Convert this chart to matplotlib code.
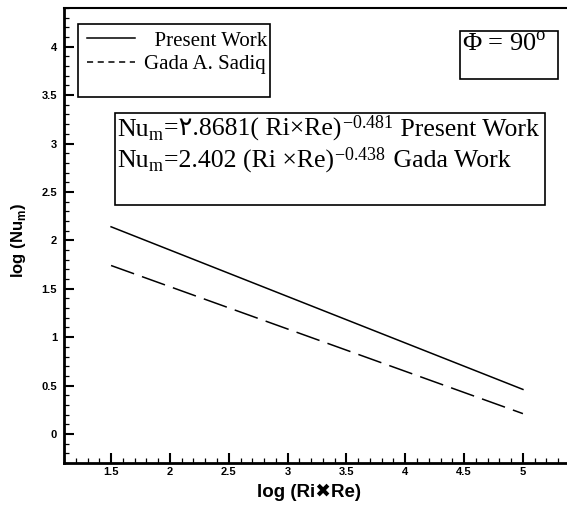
import matplotlib
matplotlib.use('Agg')
import matplotlib.pyplot as plt
from matplotlib.lines import Line2D
from matplotlib.patches import Rectangle
from matplotlib.offsetbox import TextArea, HPacker, VPacker, AnchoredOffsetbox
from matplotlib.ticker import MultipleLocator

# log(Ri*Re) against log(Nu_m), straight-line fits
log_rire = [1.5, 5.0]
present_work = [2.14, 0.46]
gada_sadiq = [1.74, 0.21]

labels = ['  Present Work', 'Gada A. Sadiq']
phi_text = 'Φ = 90$^{\\mathrm{o}}$'
eq_present = ('٢.8681( Ri×Re)', '-0.481', 'Present Work')
eq_gada = ('2.402 (Ri ×Re)', '-0.438', 'Gada Work')

plt.rcParams['mathtext.fontset'] = 'custom'
plt.rcParams['mathtext.rm'] = 'Liberation Serif'
plt.rcParams['mathtext.bf'] = 'Liberation Sans:bold'

serif = ['Liberation Serif', 'DejaVu Sans']
sans = ['Liberation Sans', 'DejaVu Sans']

W, H = 567, 520


def fx(px):
    return px / W


def fy(py):
    return 1 - py / H


fig = plt.figure(figsize=(W / 100, H / 100), dpi=100)
ax = fig.add_axes([fx(64), fy(463), (570 - 64) / W, (463 - 8) / H])

ax.plot(log_rire, present_work, color='black', lw=1.1)
ax.plot(log_rire, gada_sadiq, color='black', lw=1.1, dashes=(16, 5.5))

ax.set_xlim(1.1, 5.4)
ax.set_ylim(-0.3, 4.4)
ax.xaxis.set_major_locator(MultipleLocator(0.5))
ax.xaxis.set_minor_locator(MultipleLocator(0.1))
ax.yaxis.set_major_locator(MultipleLocator(0.5))
ax.yaxis.set_minor_locator(MultipleLocator(0.1))
ax.xaxis.set_major_formatter(lambda v, p: f'{v:g}')
ax.yaxis.set_major_formatter(lambda v, p: f'{v:g}')
ax.tick_params(which='both', direction='in', top=False, right=False)
ax.tick_params(which='major', length=7, width=1.5)
ax.tick_params(which='minor', length=3.5, width=0.9)
ax.tick_params(axis='y', pad=5)
ax.tick_params(axis='x', pad=3)
for lab in ax.get_xticklabels() + ax.get_yticklabels():
    lab.set_family(sans)
    lab.set_fontweight('bold')
    lab.set_fontsize(8)

ax.spines['right'].set_visible(False)
ax.spines['left'].set_linewidth(2)
ax.spines['bottom'].set_linewidth(2)
ax.spines['top'].set_linewidth(1.5)

ax.set_xlabel('log (Ri✖Re)', family=sans, fontweight='bold', fontsize=13.5)
ax.set_ylabel('log (Nu$_\\mathbf{m}$)', family=sans, fontweight='bold', fontsize=12)
ax.xaxis.set_label_coords(0.485, -0.045)
ax.yaxis.set_label_coords(-0.071, 0.49)

# legend
handles = [Line2D([], [], color='black', lw=1.1),
           Line2D([], [], color='black', lw=1.1, dashes=(4, 3))]
ax.legend(handles, labels, loc='upper left', bbox_to_anchor=(fx(87), fy(31)),
          bbox_transform=fig.transFigure, frameon=False, borderpad=0,
          borderaxespad=0, handlelength=2.3, handletextpad=0.45,
          labelspacing=0.2, prop={'family': serif, 'size': 15})

# frames around the legend and the text notes
for x0, y0, x1, y1 in [(78, 24, 270, 97), (460, 31, 558, 79), (115, 113, 545, 205)]:
    fig.add_artist(Rectangle((fx(x0), fy(y1)), fx(x1) - fx(x0), fy(y0) - fy(y1),
                             transform=fig.transFigure, fill=False,
                             edgecolor='black', lw=1.2))

fig.text(fx(462), fy(51), phi_text, va='baseline', ha='left', family=serif, fontsize=19)


def eq_line(coef, expo, tag):
    tp = dict(family=serif, size=18.5)
    parts = [TextArea('Nu', textprops=tp),
             TextArea('$_{\\mathrm{m}}$', textprops=tp),
             TextArea('=' + coef, textprops=tp),
             TextArea('$^{' + expo + '}$', textprops=tp),
             TextArea(' ' + tag, textprops=tp)]
    return HPacker(children=parts, align='baseline', pad=0, sep=0)


eq_box = VPacker(children=[eq_line(*eq_present), eq_line(*eq_gada)],
                 align='left', pad=0, sep=5)
ax.add_artist(AnchoredOffsetbox(loc='upper left', child=eq_box, frameon=False,
                                pad=0, borderpad=0,
                                bbox_to_anchor=(fx(117), fy(118)),
                                bbox_transform=fig.transFigure))

fig.savefig('out.png', dpi=100)
